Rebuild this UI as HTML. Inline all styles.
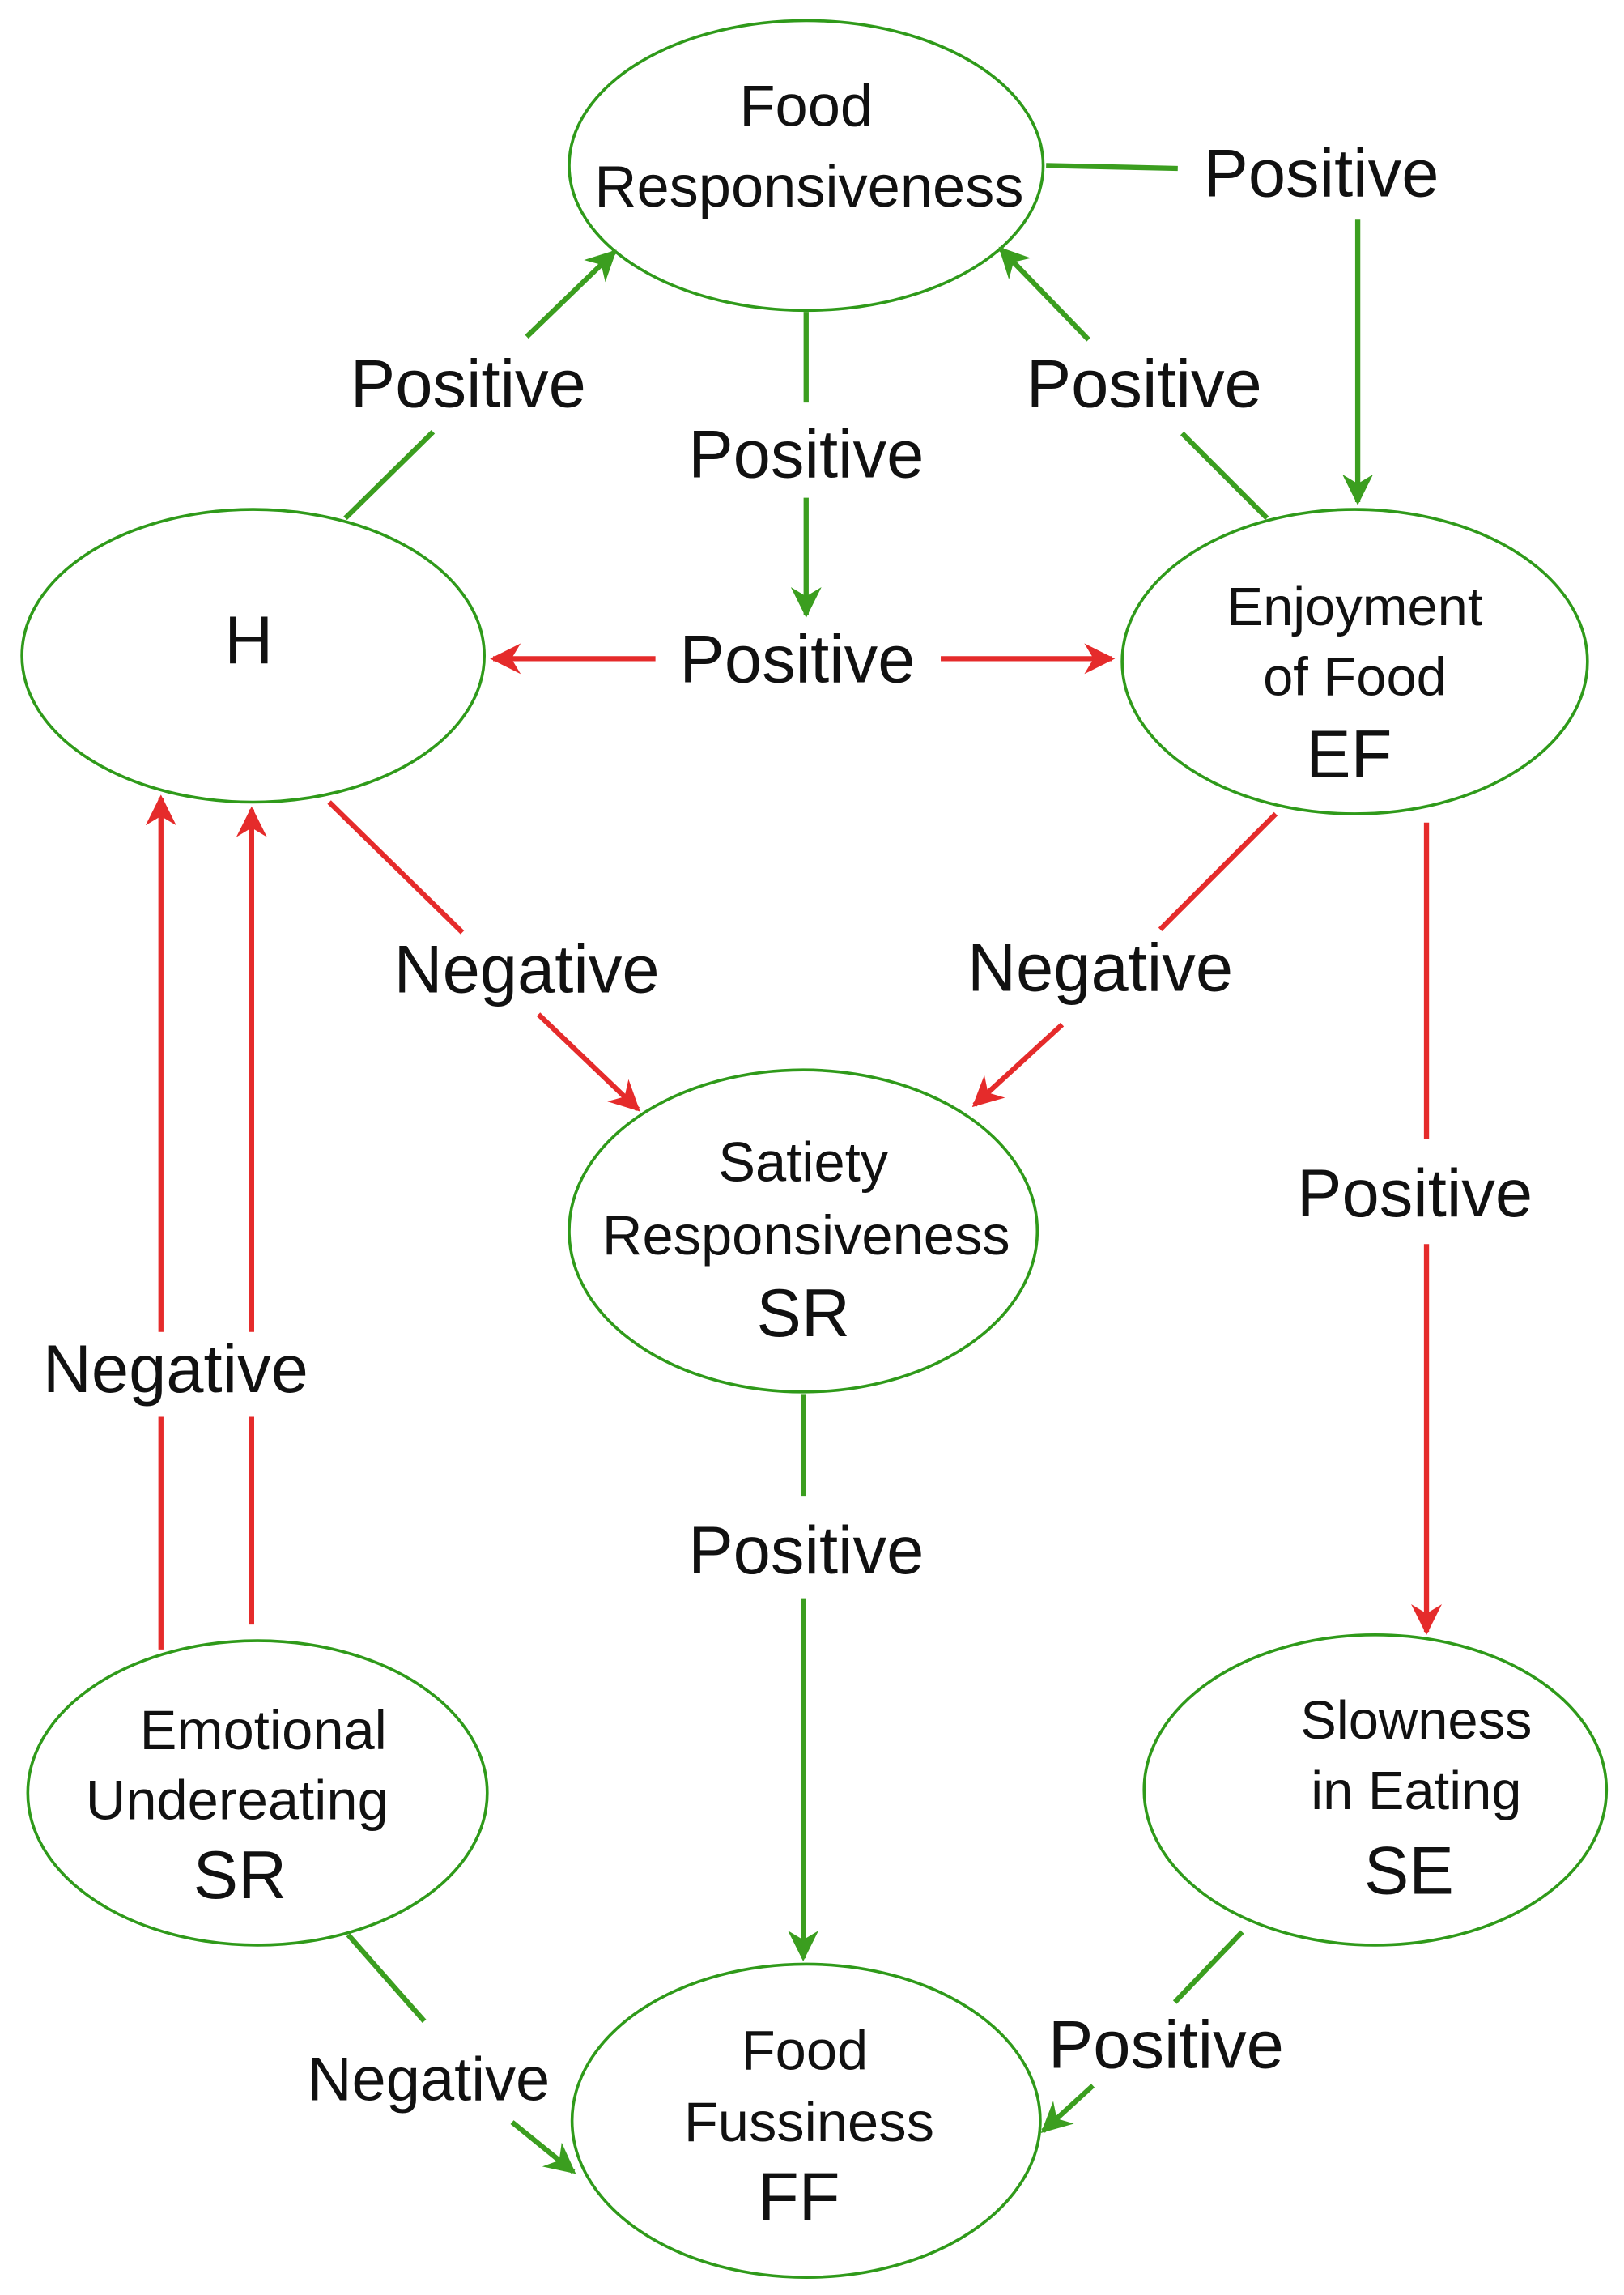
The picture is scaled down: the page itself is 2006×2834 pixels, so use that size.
<!DOCTYPE html>
<html><head><meta charset="utf-8"><style>
html,body{margin:0;padding:0;background:#fff;}
svg{display:block;}
text{font-family:"Liberation Sans",Arial,sans-serif;fill:#111;text-anchor:middle;}
.n{font-size:40px;}
.b{font-size:46px;}
.l{font-size:46px;}
</style></head><body>
<svg width="2006" height="2834" viewBox="0 0 1110 1568" xmlns="http://www.w3.org/2000/svg">
<defs>
<marker id="ag" viewBox="0 0 10 10" refX="9" refY="5" markerWidth="6" markerHeight="6" markerUnits="strokeWidth" orient="auto"><path d="M0,0 L10,5 L0,10 L3,5 z" fill="#3b9e1f"/></marker>
<marker id="ar" viewBox="0 0 10 10" refX="9" refY="5" markerWidth="6" markerHeight="6" markerUnits="strokeWidth" orient="auto"><path d="M0,0 L10,5 L0,10 L3,5 z" fill="#e52b2b"/></marker>
</defs>
<g fill="none" stroke="#2f9a1a" stroke-width="2">
<ellipse cx="551" cy="113" rx="162" ry="99"/>
<ellipse cx="173" cy="448" rx="158" ry="100"/>
<ellipse cx="926" cy="452" rx="159" ry="104"/>
<ellipse cx="549" cy="841" rx="160" ry="110"/>
<ellipse cx="176" cy="1225" rx="157" ry="104"/>
<ellipse cx="940" cy="1223" rx="158" ry="106"/>
<ellipse cx="551" cy="1449" rx="160" ry="107"/>
</g>
<g fill="none" stroke="#3b9e1f" stroke-width="3.5">
<line x1="715" y1="113" x2="805" y2="115"/>
<line x1="928" y1="150" x2="928" y2="343" marker-end="url(#ag)"/>
<line x1="236" y1="354" x2="296" y2="295"/>
<line x1="360" y1="230" x2="420" y2="172" marker-end="url(#ag)"/>
<line x1="866" y1="354" x2="808" y2="296"/>
<line x1="744" y1="232" x2="684" y2="170" marker-end="url(#ag)"/>
<line x1="551" y1="213" x2="551" y2="275"/>
<line x1="551" y1="340" x2="551" y2="420" marker-end="url(#ag)"/>
<line x1="549" y1="953" x2="549" y2="1022"/>
<line x1="549" y1="1092" x2="549" y2="1338" marker-end="url(#ag)"/>
<line x1="238" y1="1322" x2="290" y2="1381"/>
<line x1="350" y1="1450" x2="392" y2="1484" marker-end="url(#ag)"/>
<line x1="849" y1="1320" x2="803" y2="1368"/>
<line x1="747" y1="1425" x2="713" y2="1456" marker-end="url(#ag)"/>
</g>
<g fill="none" stroke="#e52b2b" stroke-width="3.5">
<line x1="448" y1="450" x2="337" y2="450" marker-end="url(#ar)"/>
<line x1="643" y1="450" x2="760" y2="450" marker-end="url(#ar)"/>
<line x1="225" y1="548" x2="316" y2="637"/>
<line x1="368" y1="693" x2="436" y2="758" marker-end="url(#ar)"/>
<line x1="872" y1="556" x2="793" y2="635"/>
<line x1="726" y1="700" x2="666" y2="755" marker-end="url(#ar)"/>
<line x1="975" y1="562" x2="975" y2="778"/>
<line x1="975" y1="850" x2="975" y2="1115" marker-end="url(#ar)"/>
<line x1="110" y1="1127" x2="110" y2="968"/>
<line x1="110" y1="910" x2="110" y2="545" marker-end="url(#ar)"/>
<line x1="172" y1="1110" x2="172" y2="968"/>
<line x1="172" y1="910" x2="172" y2="553" marker-end="url(#ar)"/>
</g>
<text class="n" x="551" y="86">Food</text>
<text class="n" x="553" y="141">Responsiveness</text>
<text class="b" x="170" y="453">H</text>
<text class="n" x="926" y="427" style="font-size:37px">Enjoyment</text>
<text class="n" x="926" y="475" style="font-size:37px">of Food</text>
<text class="b" x="922" y="531">EF</text>
<text class="n" x="549" y="807" style="font-size:38px">Satiety</text>
<text class="n" x="551" y="857" style="font-size:38px">Responsiveness</text>
<text class="b" x="549" y="913">SR</text>
<text class="n" x="180" y="1195" style="font-size:38px">Emotional</text>
<text class="n" x="162" y="1243" style="font-size:38px">Undereating</text>
<text class="b" x="164" y="1297">SR</text>
<text class="n" x="968" y="1188" style="font-size:37px">Slowness</text>
<text class="n" x="968" y="1236" style="font-size:37px">in Eating</text>
<text class="b" x="963" y="1294">SE</text>
<text class="n" x="550" y="1414" style="font-size:38px">Food</text>
<text class="n" x="553" y="1463" style="font-size:38px">Fussiness</text>
<text class="b" x="546" y="1517">FF</text>
<text class="l" x="903" y="134">Positive</text>
<text class="l" x="320" y="278">Positive</text>
<text class="l" x="782" y="278">Positive</text>
<text class="l" x="551" y="326">Positive</text>
<text class="l" x="545" y="466">Positive</text>
<text class="l" x="360" y="678">Negative</text>
<text class="l" x="752" y="677">Negative</text>
<text class="l" x="967" y="831">Positive</text>
<text class="l" x="120" y="951">Negative</text>
<text class="l" x="551" y="1075">Positive</text>
<text class="l" x="293" y="1435" style="font-size:42px">Negative</text>
<text class="l" x="797" y="1413">Positive</text>
</svg>
</body></html>
